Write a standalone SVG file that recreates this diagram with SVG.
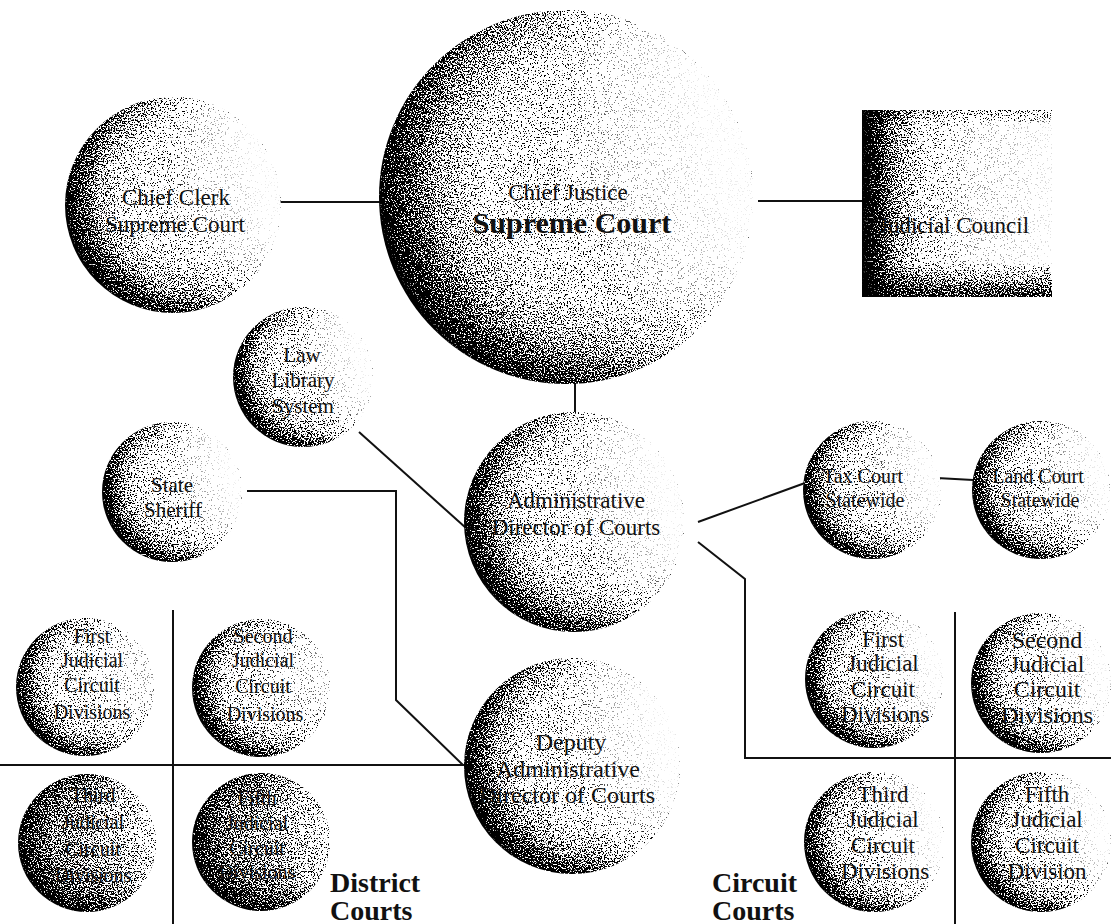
<svg xmlns="http://www.w3.org/2000/svg" width="1111" height="924" viewBox="0 0 1111 924">
  <defs>
    <radialGradient id="gEdge" cx="0.62" cy="0.44" r="0.63">
      <stop offset="0" stop-color="#e8e8e8"/>
      <stop offset="0.55" stop-color="#d8d8d8"/>
      <stop offset="0.75" stop-color="#9a9a9a"/>
      <stop offset="0.9" stop-color="#3c3c3c"/>
      <stop offset="1" stop-color="#000000"/>
    </radialGradient>
    <radialGradient id="gEdgeDark" cx="0.6" cy="0.44" r="0.62">
      <stop offset="0" stop-color="#a8a8a8"/>
      <stop offset="0.6" stop-color="#808080"/>
      <stop offset="0.85" stop-color="#3a3a3a"/>
      <stop offset="1" stop-color="#000000"/>
    </radialGradient>
    <linearGradient id="gFade" x1="0" y1="0.2" x2="1" y2="-0.05">
      <stop offset="0" stop-color="#ffffff" stop-opacity="0"/>
      <stop offset="0.4" stop-color="#ffffff" stop-opacity="0"/>
      <stop offset="0.62" stop-color="#ffffff" stop-opacity="0.65"/>
      <stop offset="0.8" stop-color="#ffffff" stop-opacity="0.95"/>
      <stop offset="1" stop-color="#ffffff" stop-opacity="1"/>
    </linearGradient>
    <linearGradient id="gFadeDark" x1="0" y1="0.1" x2="1" y2="0">
      <stop offset="0" stop-color="#ffffff" stop-opacity="0"/>
      <stop offset="0.5" stop-color="#ffffff" stop-opacity="0"/>
      <stop offset="0.8" stop-color="#ffffff" stop-opacity="0.5"/>
      <stop offset="1" stop-color="#ffffff" stop-opacity="0.85"/>
    </linearGradient>
    <linearGradient id="gBoxH" x1="0" y1="0" x2="1" y2="0">
      <stop offset="0" stop-color="#000000"/>
      <stop offset="0.07" stop-color="#202020"/>
      <stop offset="0.16" stop-color="#8a8a8a"/>
      <stop offset="0.32" stop-color="#dcdcdc"/>
      <stop offset="0.6" stop-color="#f2f2f2"/>
      <stop offset="1" stop-color="#fcfcfc"/>
    </linearGradient>
    <linearGradient id="gBoxV" x1="0" y1="0" x2="0" y2="1">
      <stop offset="0" stop-color="#000000" stop-opacity="0.25"/>
      <stop offset="0.08" stop-color="#000000" stop-opacity="0"/>
      <stop offset="0.82" stop-color="#000000" stop-opacity="0"/>
      <stop offset="1" stop-color="#000000" stop-opacity="0.75"/>
    </linearGradient>
    <filter id="dither" color-interpolation-filters="sRGB" x="0" y="0" width="1" height="1">
      <feTurbulence type="fractalNoise" baseFrequency="0.7" numOctaves="2" seed="7" result="t"/>
      <feColorMatrix in="t" type="matrix" values="3 0 0 0 -1  3 0 0 0 -1  3 0 0 0 -1  0 0 0 0 1" result="n"/>
      <feComposite in="n" in2="SourceGraphic" operator="in" result="ni"/>
      <feComposite in="SourceGraphic" in2="ni" operator="arithmetic" k1="0" k2="9" k3="-8" k4="0"/>
    </filter>
  </defs>
  <style>
    .sh { filter: url(#dither); }
    .e { fill: url(#gEdge); }
    .f { fill: url(#gFade); }
    .ed { fill: url(#gEdgeDark); }
    .fd { fill: url(#gFadeDark); }
    .t { font-family: "Liberation Serif", "Times New Roman", serif; fill: #111; text-anchor: middle; }
    .big { font-weight: bold; }
    .lbl { font-family: "Liberation Serif", "Times New Roman", serif; font-weight: bold; font-size: 28px; fill: #111; }
    .ln { stroke: #111; stroke-width: 2; fill: none; }
  </style>
  <rect width="1111" height="924" fill="#ffffff"/>

  <g id="connectors">
    <line class="ln" x1="278" y1="202" x2="382" y2="202"/>
    <line class="ln" x1="758" y1="201" x2="862" y2="201"/>
    <line class="ln" x1="575" y1="382" x2="575" y2="414"/>
    <line class="ln" x1="359" y1="432" x2="466" y2="528"/>
    <polyline class="ln" points="247,491 396,491 396,700 463,765"/>
    <line class="ln" x1="698" y1="522" x2="805" y2="483"/>
    <line class="ln" x1="937" y1="478" x2="973" y2="480"/>
    <polyline class="ln" points="698,542 745,579 745,758 1111,758"/>
    <line class="ln" x1="0" y1="765" x2="464" y2="765"/>
    <line class="ln" x1="173" y1="610" x2="173" y2="924"/>
    <line class="ln" x1="955" y1="612" x2="955" y2="924"/>
  </g>

  <g id="supreme-court">
    <g class="sh"><circle class="e" cx="566" cy="197" r="187"/><circle class="f" cx="566" cy="197" r="187"/></g>
    <text class="t" x="568" y="200" font-size="23">Chief Justice</text>
    <text class="t big" x="572" y="233" font-size="30">Supreme Court</text>
  </g>

  <g id="chief-clerk">
    <g class="sh"><circle class="e" cx="173" cy="205" r="108"/><circle class="f" cx="173" cy="205" r="108"/></g>
    <text class="t" font-size="23"><tspan x="176" y="205">Chief Clerk</tspan><tspan x="175" y="232">Supreme Court</tspan></text>
  </g>

  <g id="judicial-council">
    <g class="sh">
      <rect x="862" y="110" width="190" height="187" fill="url(#gBoxH)"/>
      <rect x="862" y="110" width="190" height="187" fill="url(#gBoxV)"/>
    </g>
    <text class="t" x="954" y="233" font-size="23">Judicial Council</text>
  </g>

  <g id="law-library">
    <g class="sh"><circle class="e" cx="303" cy="377" r="70"/><circle class="f" cx="303" cy="377" r="70"/></g>
    <text class="t" font-size="21"><tspan x="302" y="362">Law</tspan><tspan x="303" y="387">Library</tspan><tspan x="303" y="413">System</tspan></text>
  </g>

  <g id="state-sheriff">
    <g class="sh"><circle class="e" cx="172" cy="492" r="70"/><circle class="f" cx="172" cy="492" r="70"/></g>
    <text class="t" font-size="21"><tspan x="172" y="492">State</tspan><tspan x="173" y="517">Sheriff</tspan></text>
  </g>

  <g id="admin-director">
    <g class="sh"><circle class="e" cx="574" cy="522" r="110"/><circle class="f" cx="574" cy="522" r="110"/></g>
    <text class="t" font-size="23"><tspan x="576" y="508">Administrative</tspan><tspan x="576" y="535">Director of Courts</tspan></text>
  </g>

  <g id="deputy-director">
    <g class="sh"><circle class="e" cx="572" cy="766" r="108"/><circle class="f" cx="572" cy="766" r="108"/></g>
    <text class="t" font-size="24"><tspan x="571" y="750">Deputy</tspan><tspan x="568" y="777">Administrative</tspan><tspan x="567" y="803">Director of Courts</tspan></text>
  </g>

  <g id="tax-court">
    <g class="sh"><circle class="e" cx="872" cy="490" r="69"/><circle class="f" cx="872" cy="490" r="69"/></g>
    <text class="t" font-size="20"><tspan x="863" y="483">Tax Court</tspan><tspan x="865" y="507">Statewide</tspan></text>
  </g>

  <g id="land-court">
    <g class="sh"><circle class="e" cx="1041" cy="490" r="69"/><circle class="f" cx="1041" cy="490" r="69"/></g>
    <text class="t" font-size="20"><tspan x="1038" y="483">Land Court</tspan><tspan x="1040" y="507">Statewide</tspan></text>
  </g>

  <g id="district-first">
    <g class="sh"><circle class="e" cx="85" cy="687" r="69"/><circle class="fd" cx="85" cy="687" r="69"/></g>
    <text class="t" font-size="20"><tspan x="92" y="643">First</tspan><tspan x="92" y="667">Judicial</tspan><tspan x="92" y="692">Circuit</tspan><tspan x="92" y="719">Divisions</tspan></text>
  </g>
  <g id="district-second">
    <g class="sh"><circle class="e" cx="261" cy="688" r="69"/><circle class="fd" cx="261" cy="688" r="69"/></g>
    <text class="t" font-size="20"><tspan x="263" y="643">Second</tspan><tspan x="263" y="667">Judicial</tspan><tspan x="263" y="693">Circuit</tspan><tspan x="265" y="721">Divisions</tspan></text>
  </g>
  <g id="district-third">
    <g class="sh"><circle class="ed" cx="87" cy="843" r="69"/><circle class="fd" cx="87" cy="843" r="69"/></g>
    <text class="t" font-size="20"><tspan x="93" y="802">Third</tspan><tspan x="93" y="829">Judicial</tspan><tspan x="93" y="856">Circuit</tspan><tspan x="93" y="882">Divisions</tspan></text>
  </g>
  <g id="district-fifth">
    <g class="sh"><circle class="ed" cx="261" cy="842" r="69"/><circle class="fd" cx="261" cy="842" r="69"/></g>
    <text class="t" font-size="20"><tspan x="257" y="805">Fifth</tspan><tspan x="257" y="830">Judicial</tspan><tspan x="257" y="855">Circuit</tspan><tspan x="257" y="879">Divisions</tspan></text>
  </g>

  <g id="circuit-first">
    <g class="sh"><circle class="e" cx="874" cy="679" r="69"/><circle class="f" cx="874" cy="679" r="69"/></g>
    <text class="t" font-size="23"><tspan x="883" y="647">First</tspan><tspan x="883" y="671">Judicial</tspan><tspan x="883" y="697">Circuit</tspan><tspan x="885" y="722">Divisions</tspan></text>
  </g>
  <g id="circuit-second">
    <g class="sh"><circle class="e" cx="1041" cy="683" r="70"/><circle class="f" cx="1041" cy="683" r="70"/></g>
    <text class="t" font-size="24"><tspan x="1047" y="648">Second</tspan><tspan x="1047" y="672">Judicial</tspan><tspan x="1047" y="697">Circuit</tspan><tspan x="1047" y="723">Divisions</tspan></text>
  </g>
  <g id="circuit-third">
    <g class="sh"><circle class="e" cx="874" cy="842" r="70"/><circle class="f" cx="874" cy="842" r="70"/></g>
    <text class="t" font-size="23"><tspan x="883" y="802">Third</tspan><tspan x="883" y="827">Judicial</tspan><tspan x="883" y="853">Circuit</tspan><tspan x="885" y="879">Divisions</tspan></text>
  </g>
  <g id="circuit-fifth">
    <g class="sh"><circle class="e" cx="1041" cy="842" r="70"/><circle class="f" cx="1041" cy="842" r="70"/></g>
    <text class="t" font-size="23"><tspan x="1047" y="802">Fifth</tspan><tspan x="1047" y="827">Judicial</tspan><tspan x="1047" y="853">Circuit</tspan><tspan x="1047" y="879">Division</tspan></text>
  </g>

  <g id="labels">
    <text class="lbl" x="330" y="892">District</text>
    <text class="lbl" x="330" y="920">Courts</text>
    <text class="lbl" x="712" y="892">Circuit</text>
    <text class="lbl" x="712" y="920">Courts</text>
  </g>
</svg>
